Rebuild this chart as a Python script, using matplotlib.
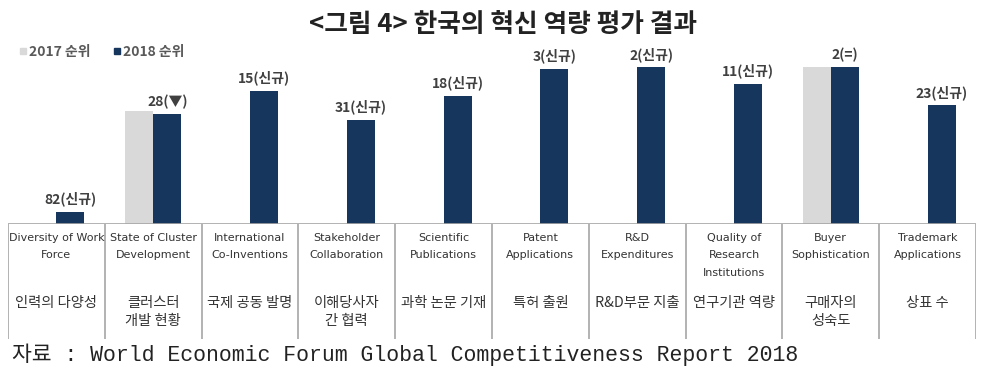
import numpy as np
import matplotlib
matplotlib.use("Agg")
import matplotlib.pyplot as plt
from matplotlib.lines import Line2D

# ---------------- data ----------------
categories_en = [
    "Diversity of Work\nForce",
    "State of Cluster\nDevelopment",
    "International\nCo-Inventions",
    "Stakeholder\nCollaboration",
    "Scientific\nPublications",
    "Patent\nApplications",
    "R&D\nExpenditures",
    "Quality of\nResearch\nInstitutions",
    "Buyer\nSophistication",
    "Trademark\nApplications",
]
categories_ko = [
    "인력의 다양성",
    "클러스터\n개발 현황",
    "국제 공동 발명",
    "이해당사자\n간 협력",
    "과학 논문 기재",
    "특허 출원",
    "R&D부문 지출",
    "연구기관 역량",
    "구매자의\n성숙도",
    "상표 수",
]
rank_2018 = [82, 28, 15, 31, 18, 3, 2, 11, 2, 23]
rank_2017 = [np.nan, 26, np.nan, np.nan, np.nan, np.nan, np.nan, np.nan, 2, np.nan]
status = ["신규", "▼", "신규", "신규", "신규", "신규", "신규", "신규", "=", "신규"]
series_names = ["2017 순위", "2018 순위"]
title = "<그림 4> 한국의 혁신 역량 평가 결과"
source = "자료 : World Economic Forum Global Competitiveness Report 2018"

RANK_BASE = 88.6  # bars drawn as (base - rank): better rank -> taller bar

# ---------------- style ----------------
C2017 = "#D9D9D9"
C2018 = "#17365D"
LINE = "#A6A6A6"
KFONT = ["Noto Sans CJK KR", "DejaVu Sans"]
W, H = 1000, 374

fig = plt.figure(figsize=(W / 100, H / 100), dpi=100)
fig.patch.set_facecolor("white")

def fx(px):
    return px / W

def fy(py):
    return 1 - py / H

# bar axes: baseline at y=224px, top at 37px
ax = fig.add_axes([fx(8), fy(224), fx(968), (224 - 37) / H])
x = np.arange(len(categories_en))
bw = 0.29
h2017 = RANK_BASE - np.array(rank_2017, dtype=float)
h2018 = RANK_BASE - np.array(rank_2018, dtype=float)
ax.bar(x - bw / 2, h2017, width=bw, color=C2017, zorder=2)
ax.bar(x + bw / 2, h2018, width=bw, color=C2018, zorder=2)
ax.set_xlim(-0.5, len(x) - 0.5)
ax.set_ylim(0, 187 / 1.81)
ax.axis("off")
ax.axhline(0, color=LINE, lw=1.2, zorder=3)

for xi, hi, r, s in zip(x, h2018, rank_2018, status):
    ax.annotate(f"{r}({s})", (xi + bw / 2, hi), xytext=(0, 4),
                textcoords="offset points", ha="center", va="bottom",
                fontsize=10, fontweight="bold", color="#404040", family=KFONT)

# table axes below the bars
tax = fig.add_axes([fx(8), fy(339), fx(968), (339 - 224) / H])
tax.set_xlim(-0.5, len(x) - 0.5)
tax.set_ylim(115, 0)
tax.axis("off")
tax.vlines(np.arange(-0.5, len(x)), 0, 115, color=LINE, lw=1.2)

for xi, en, ko in zip(x, categories_en, categories_ko):
    for j, line in enumerate(en.split("\n")):
        tax.text(xi, 14 + 17.5 * j, line, ha="center", va="center",
                 fontsize=8, color="#333333", family=["DejaVu Sans"])
    for j, line in enumerate(ko.split("\n")):
        tax.text(xi, 79 + 18 * j, line, ha="center", va="center",
                 fontsize=10.3, color="#333333", family=KFONT)

# title
fig.text(0.503, fy(25), title, ha="center", va="center", fontsize=18.5,
         fontweight="bold", color="#222222", family=KFONT)

# legend
handles = [Line2D([], [], marker="s", ls="", color=c, markersize=5) for c in (C2017, C2018)]
leg = fig.legend(handles, series_names, loc="center left",
                 bbox_to_anchor=(fx(5), fy(52)), ncol=2, frameon=False,
                 handletextpad=0.05, columnspacing=1.5, handlelength=0.8,
                 prop={"family": KFONT, "size": 10, "weight": "bold"})
for t in leg.get_texts():
    t.set_color("#595959")

# source note
fig.text(fx(12), fy(355), source, ha="left", va="center", fontsize=15.5,
         color="#222222", family=["Liberation Mono", "Noto Sans CJK KR"])

fig.savefig("out.png", dpi=100, facecolor="white")
